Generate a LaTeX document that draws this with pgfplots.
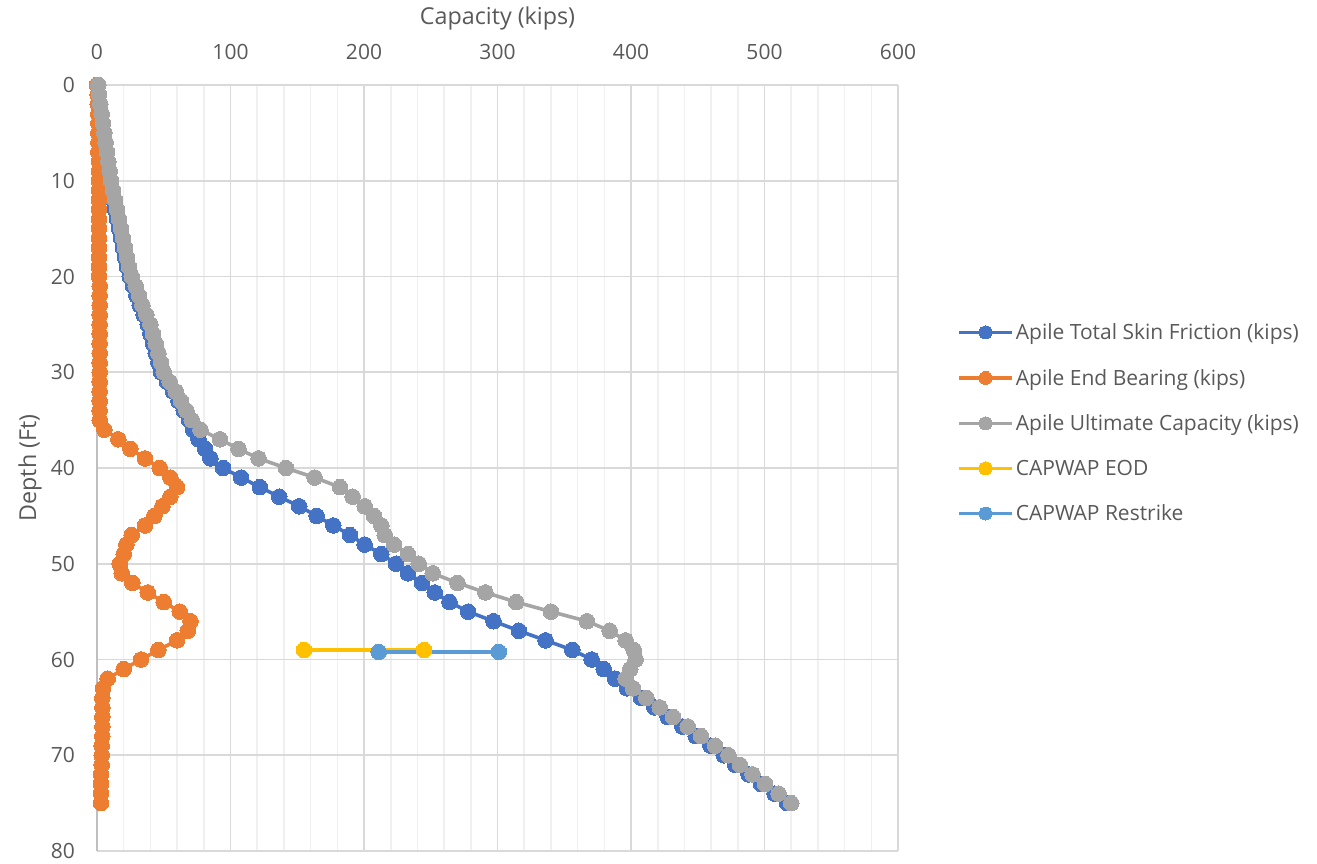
\documentclass[border=0pt]{standalone}
\usepackage{fontspec}
\setmainfont{Open Sans}
\usepackage{pgfplots}
\pgfplotsset{compat=1.18}
\usepackage{pgfplotstable}
\definecolor{cBlue}{HTML}{4472C4}
\definecolor{cOrange}{HTML}{ED7D31}
\definecolor{cGray}{HTML}{A5A5A5}
\definecolor{cYellow}{HTML}{FFC000}
\definecolor{cLBlue}{HTML}{5B9BD5}
\definecolor{cText}{HTML}{595959}
\definecolor{cGridMaj}{HTML}{D9D9D9}
\definecolor{cGridMin}{HTML}{F0F0F0}
\definecolor{cAxis}{HTML}{BFBFBF}

\pgfplotstableread{
d skin eb ult
0 1 0 1
1 1 0.5 1.5
2 2 0.5 2.5
3 2.5 1 3.5
4 3.5 1 4.5
5 4.5 1 5.5
6 5.5 1 6.5
7 6.5 1 7.5
8 7 1.5 8.5
9 8 1.5 9.5
10 9 1.5 10.5
11 10.5 1.5 12
12 12 1.5 13.5
13 13.5 1.5 15
14 15 1.5 16.5
15 16.5 1.5 18
16 18 1.5 19.5
17 19.5 1.5 21
18 21 1.5 22.5
19 22.5 1.5 24
20 24.5 1.5 26
21 27 2 29
22 29.5 2 31.5
23 32 2 34
24 35 2 37
25 38 2 40
26 40 2 42
27 42 2 44
28 44 2 46
29 46 2 48
30 48 2 50
31 52.5 2 54.5
32 57 2 59
33 61 2 63
34 65 2 67
35 69 2 71
36 72 5.5 77.5
37 76 16 92
38 81 25 106
39 85 36 121
40 94.5 47 141.5
41 108 55 163
42 122 60 182
43 136.5 55 191.5
44 151.5 49 200.5
45 164.5 43 207.5
46 177 36 213
47 189.5 26 215.5
48 200.5 22 222.5
49 213 20 233
50 224 17 241
51 233 18.5 251.5
52 243.5 26.5 270
53 253 38 291
54 264 50 314
55 278 62 340
56 297 70 367
57 316 68 384
58 336 60 396
59 356 46 402
60 370.5 33 403.5
61 379.5 20 399.5
62 388 8 396
63 397 4.5 401.5
64 407.5 4 411.5
65 417.5 4 421.5
66 427.5 4 431.5
67 438.5 4 442.5
68 448.5 4 452.5
69 459.5 3.5 463
70 469.5 3.5 473
71 478 3.5 481.5
72 488 3 491
73 497.5 3 500.5
74 507.5 3 510.5
75 517 3 520
}\apile

\begin{document}
\begin{tikzpicture}
\path[use as bounding box] (-97pt,-13pt) rectangle (1220pt,851pt);
\begin{axis}[
  at={(0pt,0pt)}, anchor=south west,
  scale only axis, width=801pt, height=766pt,
  xmin=0, xmax=600, ymin=0, ymax=80, y dir=reverse,
  axis x line*=top, axis y line*=left,
  x axis line style={draw=cGridMaj, line width=1.6pt, -},
  y axis line style={draw=cAxis, line width=1.6pt, -},
  xtick={0,100,...,600}, ytick={0,10,...,80},
  minor x tick num=4,
  xmajorgrids, xminorgrids, ymajorgrids,
  major grid style={draw=cGridMaj, line width=1.6pt},
  minor grid style={draw=cGridMin, line width=1.6pt},
  major tick length=0pt, minor tick length=0pt,
  /pgf/number format/assume math mode=true,
  tick label style={font=\fontsize{21}{25}\selectfont, text=cText},
  xticklabel style={anchor=center, yshift=33pt},
  yticklabel style={anchor=east, inner sep=0pt, xshift=-22pt},
  xlabel={Capacity (kips)}, ylabel={Depth (Ft)},
  label style={font=\fontsize{23.3}{28}\selectfont, text=cText},
  xlabel style={at={(axis description cs:0.5,1.0875)}, anchor=center},
  ylabel style={at={(axis description cs:-0.0837,0.5)}, anchor=center},
  legend style={at={(axis description cs:1.0737,0.5587)}, anchor=west,
    draw=none, fill=none, font=\fontsize{21}{25}\selectfont, text=cText,
    row sep=24pt, column sep=0pt, inner sep=0pt},
  legend cell align=left,
  legend image code/.code={\draw[mark repeat=2,mark phase=2,#1,mark size=6.5pt] plot coordinates {(0pt,0pt)(26.5pt,0pt)(53pt,0pt)};},
  every axis plot/.append style={line width=3.6pt, mark=*, mark size=7.8pt},
]
\addplot[cBlue, mark options={fill=cBlue, draw=cBlue, line width=0pt}] table[x=skin, y=d] \apile;
\addlegendentry{Apile Total Skin Friction (kips)}
\addplot[cOrange, mark options={fill=cOrange, draw=cOrange, line width=0pt}] table[x=eb, y=d] \apile;
\addlegendentry{Apile End Bearing (kips)}
\addplot[cGray, mark options={fill=cGray, draw=cGray, line width=0pt}] table[x=ult, y=d] \apile;
\addlegendentry{Apile Ultimate Capacity (kips)}
\addplot[cYellow, mark options={fill=cYellow, draw=cYellow, line width=0pt}] coordinates {(155,59) (245,59)};
\addlegendentry{CAPWAP EOD}
\addplot[cLBlue, mark options={fill=cLBlue, draw=cLBlue, line width=0pt}] coordinates {(211,59.2) (301,59.2)};
\addlegendentry{CAPWAP Restrike}
\end{axis}
\end{tikzpicture}
\end{document}
